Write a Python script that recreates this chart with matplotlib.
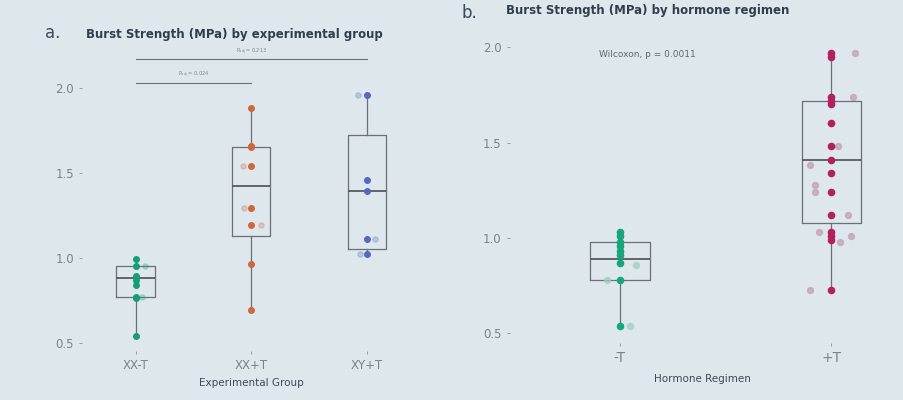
import numpy as np
import matplotlib.pyplot as plt

# burst strength (MPa) per experimental group
groups_a = ['XX-T', 'XX+T', 'XY+T']
xx_minus_t = [0.99, 0.95, 0.89, 0.87, 0.84, 0.77, 0.76, 0.54]
xx_plus_t = [1.88, 1.66, 1.65, 1.54, 1.29, 1.19, 0.96, 0.69]
xy_plus_t = [1.96, 1.46, 1.39, 1.11, 1.02]
# box summaries: whisker low, q1, median, q3, whisker high
box_a = [[0.54, 0.77, 0.88, 0.95, 0.99],
         [0.69, 1.13, 1.42, 1.65, 1.88],
         [1.02, 1.05, 1.39, 1.72, 1.96]]
# faint jittered duplicates: (group index, value, offset)
faint_a = [(0, 0.95, 0.08), (0, 0.77, 0.06), (1, 1.54, -0.07), (1, 1.29, -0.06),
           (1, 1.19, 0.08), (2, 1.96, -0.08), (2, 1.11, 0.07), (2, 1.02, -0.06)]
padj = ['P$_{adj}$ = 0.024', 'P$_{adj}$ = 0.213']

# burst strength per hormone regimen
groups_b = ['-T', '+T']
minus_t = [1.03, 1.01, 0.98, 0.96, 0.93, 0.91, 0.87, 0.78, 0.54]
plus_t = [1.97, 1.95, 1.74, 1.72, 1.70, 1.60, 1.48, 1.41, 1.34, 1.24, 1.12,
          1.03, 1.01, 0.99, 0.73]
box_b = [[0.54, 0.78, 0.89, 0.98, 1.03],
         [0.73, 1.08, 1.41, 1.72, 1.97]]
faint_b = [(0, 0.86, 0.075), (0, 0.54, 0.05), (0, 0.78, -0.06),
           (1, 1.97, 0.11), (1, 1.74, 0.10), (1, 1.48, 0.03), (1, 1.38, -0.10),
           (1, 1.28, -0.08), (1, 1.24, -0.08), (1, 1.12, 0.08), (1, 1.03, -0.06),
           (1, 1.01, 0.09), (1, 0.98, 0.04), (1, 0.73, -0.10)]
wilcoxon = 'Wilcoxon, p = 0.0011'

bg = '#dde7ec'
cols_a = ['#179c78', '#d0663a', '#5566c4']
cols_b = ['#16a67c', '#b3205c']
faint_col_b = ['#9ccfbd', '#c49aae']

fig = plt.figure(figsize=(9.04, 4), dpi=100, facecolor=bg)


def stats(rows, labels):
    return [dict(whislo=r[0], q1=r[1], med=r[2], q3=r[3], whishi=r[4], label=l)
            for r, l in zip(rows, labels)]


def style(ax):
    ax.set_facecolor(bg)
    for s in ax.spines.values():
        s.set_visible(False)
    ax.tick_params(colors='#8a9297', labelcolor='#7b8388', labelsize=8.5,
                   length=2.5, width=0.6)


box_props = dict(boxprops=dict(color='#6a7074', lw=0.9),
                 whiskerprops=dict(color='#6a7074', lw=0.9),
                 capprops=dict(lw=0),
                 medianprops=dict(color='#555b5f', lw=1.3))

# panel a
ax1 = fig.add_axes([0.091, 0.1225, 0.374, 0.785])
style(ax1)
ax1.bxp(stats(box_a, groups_a), positions=[1, 2, 3], widths=0.33,
        showfliers=False, **box_props)
for i, vals in enumerate([xx_minus_t, xx_plus_t, xy_plus_t]):
    ax1.scatter(np.full(len(vals), i + 1), vals, s=16, color=cols_a[i], zorder=3)
for g, v, off in faint_a:
    ax1.scatter(g + 1 + off, v, s=14, color=cols_a[g], alpha=0.25, zorder=2)
# pairwise comparison brackets
ax1.plot([1, 2], [2.03, 2.03], color='#6a7074', lw=0.8)
ax1.text(1.5, 2.045, padj[0], ha='center', va='bottom', fontsize=3.5, color='#7b8388')
ax1.plot([1, 3], [2.17, 2.17], color='#6a7074', lw=0.8)
ax1.text(2.0, 2.185, padj[1], ha='center', va='bottom', fontsize=3.5, color='#7b8388')
ax1.set_xlim(0.54, 3.46)
ax1.set_ylim(0.45, 2.3)
ax1.set_yticks([0.5, 1.0, 1.5, 2.0])
ax1.set_xticks([1, 2, 3])
ax1.set_xticklabels(groups_a)
ax1.set_xlabel('Experimental Group', fontsize=7.5, color='#3d4a57', labelpad=4)
fig.text(0.05, 0.905, 'a.', fontsize=12, color='#3d4a57')
fig.text(0.095, 0.905, 'Burst Strength (MPa) by experimental group', fontsize=8.5,
         fontweight='bold', color='#2f3d4c')

# panel b
ax2 = fig.add_axes([0.564, 0.1425, 0.426, 0.7875])
style(ax2)
ax2.bxp(stats(box_b, groups_b), positions=[1, 2], widths=0.28,
        showfliers=False, **box_props)
for i, vals in enumerate([minus_t, plus_t]):
    ax2.scatter(np.full(len(vals), i + 1), vals, s=20, color=cols_b[i], zorder=3)
for g, v, off in faint_b:
    ax2.scatter(g + 1 + off, v, s=18, color=faint_col_b[g], alpha=0.7, zorder=2)
ax2.text(1.13, 1.96, wilcoxon, ha='center', va='center', fontsize=6.5, color='#5f676c')
ax2.set_xlim(0.48, 2.3)
ax2.set_ylim(0.45, 2.1)
ax2.set_yticks([0.5, 1.0, 1.5, 2.0])
ax2.set_xticks([1, 2])
ax2.set_xticklabels(groups_b, fontsize=10)
ax2.set_xlabel('Hormone Regimen', fontsize=7.5, color='#3d4a57', labelpad=6)
fig.text(0.51, 0.955, 'b.', fontsize=12, color='#3d4a57')
fig.text(0.56, 0.965, 'Burst Strength (MPa) by hormone regimen', fontsize=8.5,
         fontweight='bold', color='#2f3d4c')

fig.savefig('out.png', dpi=100, facecolor=bg)
